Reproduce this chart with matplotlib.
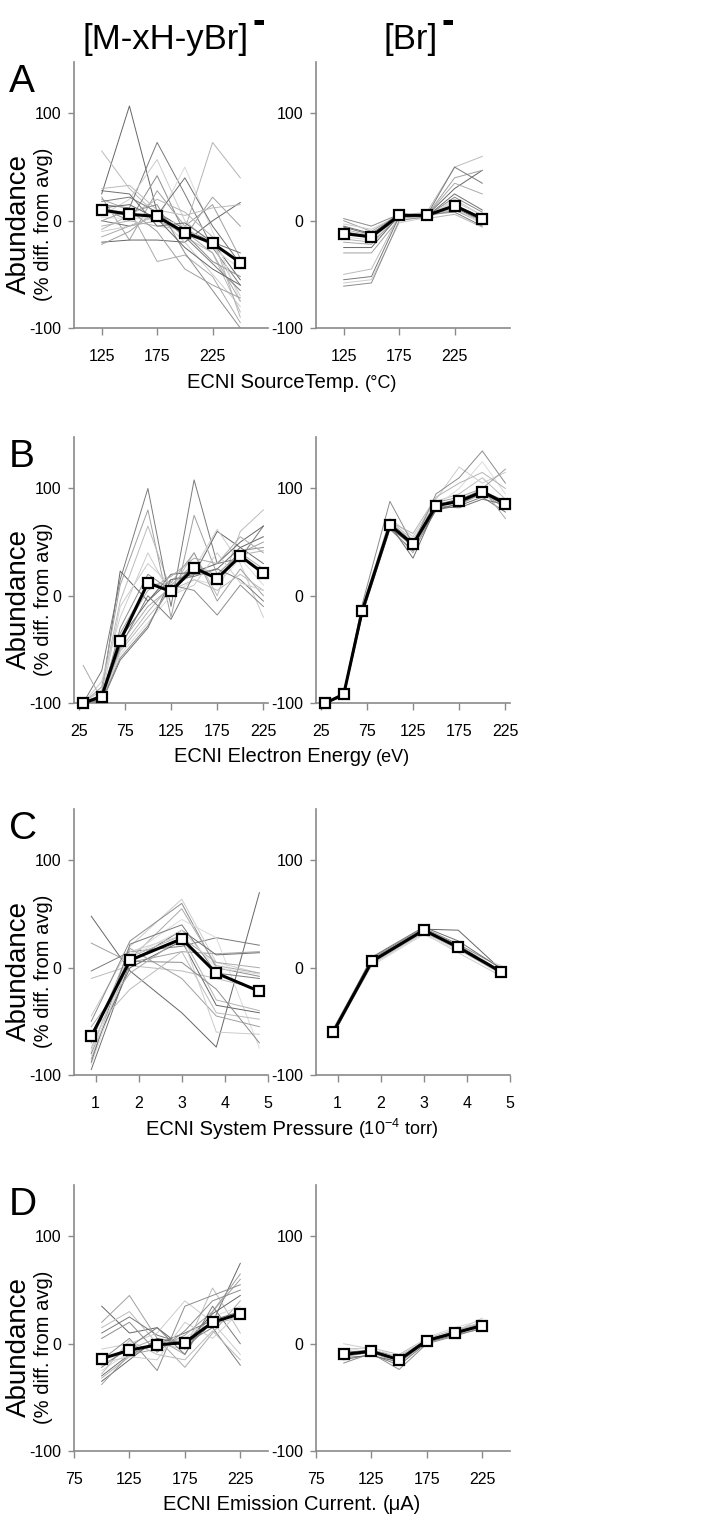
import matplotlib
matplotlib.use("Agg")
import matplotlib.pyplot as plt
from matplotlib.offsetbox import TextArea, HPacker, AnnotationBbox
from matplotlib import transforms

plt.rcParams['font.family'] = ['Liberation Sans', 'DejaVu Sans']
plt.rcParams['axes.unicode_minus'] = False
plt.rcParams['mathtext.fontset'] = 'custom'
plt.rcParams['mathtext.rm'] = 'Liberation Sans'
plt.rcParams['mathtext.it'] = 'Liberation Sans'

# x settings for each experiment
x_temp = [125, 150, 175, 200, 225, 250]
x_energy = [30, 50, 70, 100, 125, 150, 175, 200, 225]
x_press = [0.9, 1.8, 3.0, 3.8, 4.8]
x_current = [100, 125, 150, 175, 200, 225]

# averages (black line) for molecular ions / bromide
temp_mol_avg = [10, 6, 4, -11, -21, -39]
temp_br_avg = [-12, -15, 5, 5, 14, 2]
energy_mol_avg = [-100, -94, -42, 12, 4, 26, 16, 37, 21]
energy_br_avg = [-100, -92, -14, 66, 48, 84, 88, 97, 86]
press_mol_avg = [-64, 7, 27, -5, -22]
press_br_avg = [-60, 6, 35, 19, -4]
current_mol_avg = [-14, -6, -1, 1, 20, 28]
current_br_avg = [-10, -7, -15, 3, 10, 17]

# individual compounds
temp_mol = [
    [25, 107, 8, -8, -20, -55],
    [22, -18, 28, -5, 15, -35],
    [65, 30, 5, -15, -30, -85],
    [15, 12, 73, 25, -25, -60],
    [5, 20, 57, 0, -22, -70],
    [12, 0, 42, -12, -38, -52],
    [20, 10, -38, -32, -52, -95],
    [8, 5, 0, 50, -10, -75],
    [0, -5, 5, 40, -5, -40],
    [-5, 0, -5, -8, 73, 40],
    [-20, -18, -18, -20, 0, 17],
    [-22, -10, 10, -15, 22, -5],
    [30, 33, 10, 5, 12, 15],
    [18, 22, 8, -15, -40, -65],
    [-10, -5, 5, -20, -50, -80],
    [10, 8, 15, -30, -65, -100],
    [-15, -5, 0, -10, -30, -75],
    [3, 2, 3, -5, -25, -45],
    [28, 25, -5, -2, -20, -30],
    [-8, 5, 20, 8, -15, -90],
    [12, 15, 2, -25, -45, -60],
    [0, 10, -10, -45, -60, -72],
]
temp_br = [
    [-5, -12, 5, 5, 12, 0],
    [0, -10, 6, 4, 10, -2],
    [-8, -14, 4, 5, 15, 3],
    [-10, -15, 3, 6, 8, -5],
    [-3, -8, 5, 3, 18, 5],
    [2, -5, 6, 4, 22, 8],
    [-12, -16, 4, 7, 10, 0],
    [-15, -18, 5, 5, 12, -3],
    [-6, -13, 7, 4, 25, 10],
    [-17, -20, 3, 2, 6, -6],
    [-25, -25, 5, 5, 30, 47],
    [-30, -30, 2, 5, 40, 47],
    [-50, -45, 5, 8, 50, 60],
    [-55, -52, 4, 5, 50, 35],
    [-58, -55, -2, 3, 20, 5],
    [-61, -58, 0, 4, 15, 2],
    [-20, -22, 6, 5, 35, 25],
]
energy_mol = [
    [-100, -92, 23, -5, 15, 20, 60, 45, 55],
    [-100, -85, 10, 80, -20, 75, 20, 40, 50],
    [-100, -88, -5, 65, 5, 40, 0, 60, 80],
    [-100, -70, 15, 100, -10, 108, 30, 35, 65],
    [-100, -95, -10, 30, 10, 25, 62, 30, -20],
    [-100, -97, -30, 20, 5, 30, 15, 42, 45],
    [-100, -96, -45, -10, 8, 20, 20, 40, 25],
    [-100, -98, -55, -25, 0, 15, 10, 35, 10],
    [-100, -99, -60, -30, 15, 18, 25, 45, 30],
    [-100, -95, -50, -15, 10, 30, 18, 38, 42],
    [-100, -97, -40, -5, 20, 22, 30, 50, 65],
    [-100, -93, -35, 10, 12, 40, -5, 25, 0],
    [-100, -96, -52, -20, 5, 15, 5, 20, 5],
    [-100, -94, -48, 0, -22, 20, 25, 15, -5],
    [-100, -80, -20, 40, 0, 10, 40, 12, 5],
    [-100, -98, -58, -28, 10, 5, -18, 10, -10],
    [-65, -97, -38, 5, 18, 35, 30, 55, 40],
]
energy_br = [
    [-100, -92, -12, 68, 50, 85, 90, 98, 88],
    [-100, -93, -16, 65, 45, 82, 85, 95, 82],
    [-100, -90, -10, 70, 52, 88, 95, 110, 90],
    [-100, -94, -18, 62, 42, 80, 84, 92, 78],
    [-100, -91, -13, 72, 55, 90, 120, 105, 115],
    [-100, -92, -8, 88, 48, 95, 110, 135, 105],
    [-100, -92, -15, 64, 40, 86, 88, 100, 72],
    [-100, -93, -11, 67, 50, 84, 100, 125, 95],
    [-100, -91, -14, 66, 35, 83, 82, 90, 85],
    [-100, -92, -12, 69, 58, 92, 105, 115, 100],
    [-100, -93, -17, 63, 47, 80, 86, 96, 84],
    [-100, -92, -13, 66, 49, 87, 92, 100, 118],
]
press_mol = [
    [48, -3, -42, -74, 70],
    [23, 5, 15, 13, 15],
    [-10, 2, -3, -10, -20],
    [-3, 15, 20, 28, 21],
    [-45, 20, 64, 5, -5],
    [-50, 25, 60, 0, -8],
    [-85, 8, 55, 2, -5],
    [-90, 12, 45, 28, -75],
    [-95, 5, 35, 12, 14],
    [-75, 10, 30, -30, -40],
    [-80, 0, 25, -35, -42],
    [-70, 18, -10, -45, -55],
    [-60, -20, 15, -42, -48],
    [-88, 22, 40, -5, -10],
    [-78, 15, 30, -60, -62],
    [-65, 6, 5, -20, -70],
    [-55, -5, 28, 5, 0],
    [-82, 10, 35, 0, -6],
]
press_br = [
    [-58, 8, 36, 35, -2],
    [-60, 5, 34, 20, -4],
    [-62, 4, 33, 17, -6],
    [-59, 7, 36, 21, -3],
    [-61, 3, 32, 14, -8],
    [-57, 9, 37, 22, 0],
    [-63, 6, 35, 18, -5],
    [-60, 2, 31, 16, 2],
    [-59, 10, 38, 25, -1],
]
current_mol = [
    [35, 10, 15, -5, 20, 75],
    [20, 45, 5, -10, 30, 60],
    [15, 30, 0, -5, 52, 10],
    [10, 25, 8, 0, 15, -20],
    [-5, 0, 10, 40, 20, -10],
    [-15, 5, -25, 35, 45, 55],
    [-20, -5, 5, -22, 10, 40],
    [-25, -8, -2, 5, 25, 35],
    [-30, -10, 0, 10, 22, 30],
    [-32, -12, 2, 2, 18, 25],
    [-35, -15, 5, 0, 28, 45],
    [-38, -10, -5, 8, 30, 65],
    [-28, 3, -10, -15, 12, -15],
    [-22, -3, 15, -10, 35, 0],
    [-18, -12, -15, 20, 5, 30],
    [5, 20, -8, 12, 40, 50],
]
current_br = [
    [-8, -6, -12, 4, 11, 18],
    [-12, -8, -18, 2, 9, 16],
    [-5, -4, -10, 5, 13, 20],
    [-15, -10, -20, 1, 8, 14],
    [0, -5, -14, 3, 11, 24],
    [-18, -9, -24, 0, 7, 15],
    [-10, -7, -16, 3, 12, 19],
    [-7, -3, -13, 6, 15, 22],
    [-13, -11, -17, 2, 10, 17],
]

rows = [
    dict(x=x_temp, mol=temp_mol, br=temp_br, mol_avg=temp_mol_avg, br_avg=temp_br_avg,
         xlim=(100, 275), ticks=[125, 175, 225], letter='A',
         label=('ECNI SourceTemp.', '(°C)'), unit_size=13),
    dict(x=x_energy, mol=energy_mol, br=energy_br, mol_avg=energy_mol_avg, br_avg=energy_br_avg,
         xlim=(20, 230), ticks=[25, 75, 125, 175, 225], letter='B',
         label=('ECNI Electron Energy', '(eV)'), unit_size=13),
    dict(x=x_press, mol=press_mol, br=press_br, mol_avg=press_mol_avg, br_avg=press_br_avg,
         xlim=(0.5, 5.0), ticks=[1, 2, 3, 4, 5], letter='C',
         label=('ECNI System Pressure', '(10$^{-4}$ torr)'), unit_size=13),
    dict(x=x_current, mol=current_mol, br=current_br, mol_avg=current_mol_avg, br_avg=current_br_avg,
         xlim=(75, 250), ticks=[75, 125, 175, 225], letter='D',
         label=('ECNI Emission Current.', '(μA)'), unit_size=14.5),
]

greys = ['#666666', '#a0a0a0', '#bbbbbb', '#7a7a7a', '#cccccc', '#8c8c8c',
         '#aaaaaa', '#dadada', '#707070', '#b4b4b4']
spine_col = '#8a8a8a'

W, H = 723, 1517
fig = plt.figure(figsize=(W / 100, H / 100), dpi=100)

col_left = [74, 316]
ax_w = 194
row_bottom = [328, 703, 1075, 1451]
ax_h = 266

for r, row in enumerate(rows):
    for c in range(2):
        ax = fig.add_axes([col_left[c] / W, 1 - row_bottom[r] / H, ax_w / W, ax_h / H])
        lines = row['mol'] if c == 0 else row['br']
        avg = row['mol_avg'] if c == 0 else row['br_avg']
        for i, ys in enumerate(lines):
            ax.plot(row['x'], ys, color=greys[i % len(greys)], lw=0.7, zorder=2)
        ax.plot(row['x'], avg, color='black', lw=2.2, marker='s', ms=7.5,
                mfc='white', mec='black', mew=1.6, zorder=5, clip_on=False)
        ax.set_xlim(*row['xlim'])
        ax.set_ylim(-100, 148)
        ax.set_xticks(row['ticks'])
        ax.set_yticks([-100, 0, 100])
        for s in ['top', 'right']:
            ax.spines[s].set_visible(False)
        for s in ['left', 'bottom']:
            ax.spines[s].set_color(spine_col)
            ax.spines[s].set_linewidth(1.2)
        ax.tick_params(axis='x', length=5, width=1, color=spine_col, pad=10, labelsize=11.5)
        ax.tick_params(axis='y', length=4, width=1, color=spine_col, pad=5, labelsize=11.5)
        if c == 0:
            trans = transforms.blended_transform_factory(ax.transAxes, ax.transData)
            ax.text(-0.285, -3, 'Abundance', rotation=90, ha='center', va='center',
                    fontsize=20, transform=trans)
            ax.text(-0.155, -3, '(% diff. from avg)', rotation=90, ha='center', va='center',
                    fontsize=14.5, transform=trans)
            fig.text(9 / W, 1 - (row_bottom[r] - ax_h + 20) / H, row['letter'],
                     fontsize=28, ha='left', va='center')

    main, unit = row['label']
    box = HPacker(children=[TextArea(main, textprops=dict(size=14.5)),
                            TextArea(unit, textprops=dict(size=row['unit_size']))],
                  align='baseline', pad=0, sep=4)
    ab = AnnotationBbox(box, (292 / W, 1 - (row_bottom[r] + 54) / H),
                        xycoords='figure fraction', frameon=False,
                        box_alignment=(0.5, 0.5))
    fig.add_artist(ab)

# column titles with the anion charge sign
fig.text(166 / W, 1 - 40 / H, '[M-xH-yBr]', fontsize=25, ha='center', va='center')
fig.text(259 / W, 1 - 23 / H, '-', fontsize=27, fontweight='bold', ha='center', va='center')
fig.text(411 / W, 1 - 40 / H, '[Br]', fontsize=25, ha='center', va='center')
fig.text(448 / W, 1 - 23 / H, '-', fontsize=27, fontweight='bold', ha='center', va='center')

fig.savefig('out.png', dpi=100)
